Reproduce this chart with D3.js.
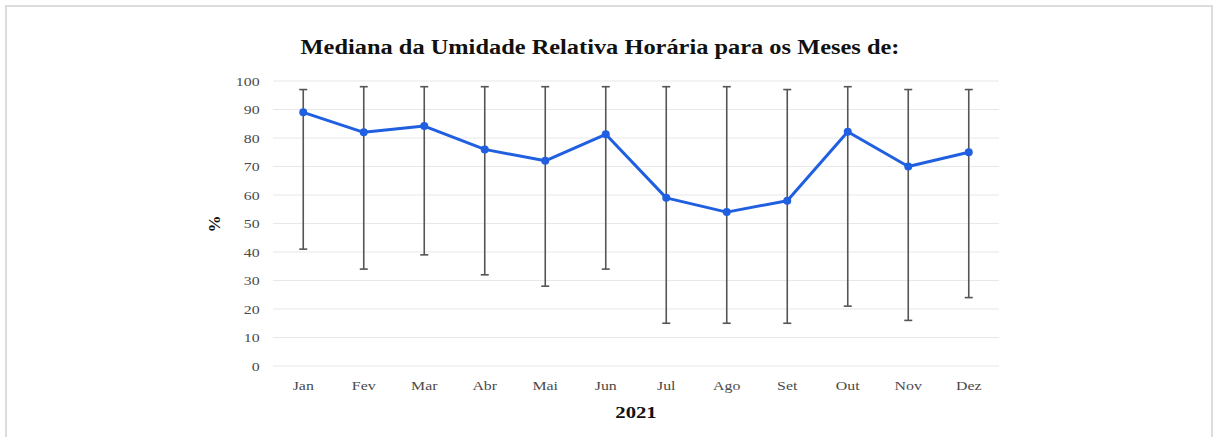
<!DOCTYPE html>
<html>
<head>
<meta charset="utf-8">
<script src="https://cdn.jsdelivr.net/npm/d3@7"></script>
<style>
  body { margin: 0; background: #fff; }
  svg { display: block; }
</style>
</head>
<body>
<div id="chart"></div>
<script>
// Monthly data (2021)
const months = ['Jan', 'Fev', 'Mar', 'Abr', 'Mai', 'Jun', 'Jul', 'Ago', 'Set', 'Out', 'Nov', 'Dez'];
const medianValues = [89, 82, 84.2, 76, 72, 81.3, 59, 54, 58, 82.2, 70, 75];
const maxValues = [97, 98, 98, 98, 98, 98, 98, 98, 97, 98, 97, 97];
const minValues = [41, 34, 39, 32, 28, 34, 15, 15, 15, 21, 16, 24];
const yTicks = [0, 10, 20, 30, 40, 50, 60, 70, 80, 90, 100];

const data = months.map((m, i) => ({
    month: m,
    median: medianValues[i],
    max: maxValues[i],
    min: minValues[i]
}));

const W = 1216, H = 437;
const margin = {top: 81, right: 217, bottom: 71, left: 273};
const width = W - margin.left - margin.right;
const height = H - margin.top - margin.bottom;
const serif = "'Liberation Serif', 'Times New Roman', serif";
const stretch = 1.22; // the source text is drawn a bit wide

const root = d3.select("#chart")
    .append("svg")
    .attr("width", W)
    .attr("height", H);

// outer frame
root.append("path")
    .attr("d", `M6,${H} V6 H1212 V${H}`)
    .attr("fill", "none")
    .attr("stroke", "#dcdcdc")
    .attr("stroke-width", 2);

const svg = root.append("g")
    .attr("transform", `translate(${margin.left},${margin.top})`);

const x = d3.scaleBand().domain(months).range([0, width]);
const y = d3.scaleLinear().domain([0, 100]).range([height, 0]);
const cx = d => x(d) + x.bandwidth() / 2;

// gridlines
svg.append("g")
    .selectAll("line")
    .data(yTicks)
    .enter().append("line")
    .attr("x1", 0)
    .attr("x2", width)
    .attr("y1", d => y(d))
    .attr("y2", d => y(d))
    .attr("stroke", "#e8e8e8")
    .attr("stroke-width", 1.2);

// y axis labels
const yAxis = svg.append("g")
    .call(d3.axisLeft(y).tickValues(yTicks).tickSize(0).tickPadding(11));
yAxis.select(".domain").remove();
yAxis.selectAll("text")
    .attr("transform", `scale(${stretch},1)`)
    .style("font-family", serif)
    .style("font-size", "13px")
    .attr("fill", "#4a4a4a");

// x axis labels
const xAxis = svg.append("g")
    .attr("transform", `translate(0,${height})`)
    .call(d3.axisBottom(x).tickSize(0).tickPadding(15));
xAxis.select(".domain").remove();
xAxis.selectAll("text")
    .attr("transform", `scale(${stretch},1)`)
    .style("font-family", serif)
    .style("font-size", "13px")
    .attr("fill", "#4a4a4a");

// error bars
const bars = svg.append("g")
    .selectAll("g")
    .data(data)
    .enter().append("g");

bars.append("line")
    .attr("x1", d => cx(d.month))
    .attr("x2", d => cx(d.month))
    .attr("y1", d => y(d.min))
    .attr("y2", d => y(d.max))
    .attr("stroke", "#555")
    .attr("stroke-width", 1.6);

bars.append("line")
    .attr("x1", d => cx(d.month) - 4)
    .attr("x2", d => cx(d.month) + 4)
    .attr("y1", d => y(d.max))
    .attr("y2", d => y(d.max))
    .attr("stroke", "#555")
    .attr("stroke-width", 1.6);

bars.append("line")
    .attr("x1", d => cx(d.month) - 4)
    .attr("x2", d => cx(d.month) + 4)
    .attr("y1", d => y(d.min))
    .attr("y2", d => y(d.min))
    .attr("stroke", "#555")
    .attr("stroke-width", 1.6);

// median line
const line = d3.line()
    .x(d => cx(d.month))
    .y(d => y(d.median));

svg.append("path")
    .datum(data)
    .attr("d", line)
    .attr("fill", "none")
    .attr("stroke", "#1f5fe0")
    .attr("stroke-width", 3)
    .attr("stroke-linejoin", "round");

svg.append("g")
    .selectAll("circle")
    .data(data)
    .enter().append("circle")
    .attr("cx", d => cx(d.month))
    .attr("cy", d => y(d.median))
    .attr("r", 4)
    .attr("fill", "#1f5fe0");

// title
root.append("text")
    .attr("transform", `translate(600,54) scale(${stretch},1)`)
    .attr("text-anchor", "middle")
    .style("font-family", serif)
    .style("font-weight", "bold")
    .style("font-size", "20px")
    .attr("fill", "#111")
    .text("Mediana da Umidade Relativa Horária para os Meses de:");

// x axis title
root.append("text")
    .attr("transform", `translate(${margin.left + width / 2},418) scale(${stretch},1)`)
    .attr("text-anchor", "middle")
    .style("font-family", serif)
    .style("font-weight", "bold")
    .style("font-size", "17px")
    .attr("fill", "#111")
    .text("2021");

// y axis title
root.append("text")
    .attr("transform", `translate(220,224) rotate(-90)`)
    .attr("text-anchor", "middle")
    .style("font-family", serif)
    .style("font-weight", "bold")
    .style("font-size", "17px")
    .attr("fill", "#111")
    .text("%");
</script>
</body>
</html>
